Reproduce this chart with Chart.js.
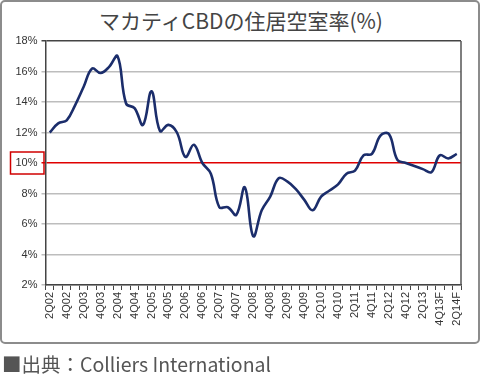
<!DOCTYPE html>
<html>
<head>
<meta charset="utf-8">
<script src="https://cdn.jsdelivr.net/npm/chart.js@4"></script>
<style>
  body { margin: 0; background: #fff; }
  #wrap { position: relative; width: 480px; height: 376px; overflow: hidden; }
  #frame { position: absolute; left: 0; top: 0; width: 476px; height: 340px;
           border: 2px solid #8c8c8c; border-radius: 5px; }
  #title { position: absolute; top: 5px; left: 0; width: 482px; text-align: center;
           font: 21px 'Noto Sans CJK JP', sans-serif; color: #444; }
  #source { position: absolute; top: 349px; left: 2px;
            font: 19.5px 'Noto Sans CJK JP', sans-serif; color: #555; }
  canvas { position: absolute; left: 0; top: 0; }
</style>
</head>
<body>
<div id="wrap">
  <div id="frame"></div>
  <div id="title">マカティCBDの住居空室率(%)</div>
  <canvas id="vacancyChart" width="480" height="376"></canvas>
  <div id="source">■出典：Colliers International</div>
</div>
<script>
// Makati CBD residential vacancy rate, quarterly
const quarters = [
    '2Q02', '3Q02', '4Q02',
    '1Q03', '2Q03', '3Q03', '4Q03',
    '1Q04', '2Q04', '3Q04', '4Q04',
    '1Q05', '2Q05', '3Q05', '4Q05',
    '1Q06', '2Q06', '3Q06', '4Q06',
    '1Q07', '2Q07', '3Q07', '4Q07',
    '1Q08', '2Q08', '3Q08', '4Q08',
    '1Q09', '2Q09', '3Q09', '4Q09',
    '1Q10', '2Q10', '3Q10', '4Q10',
    '1Q11', '2Q11', '3Q11', '4Q11',
    '1Q12', '2Q12', '3Q12', '4Q12',
    '1Q13', '2Q13', '3Q13', '4Q13F',
    '1Q14F', '2Q14F'
];
const vacancy = [
    12.0, 12.6, 12.8,
    13.8, 15.0, 16.2, 15.9,
    16.3, 17.0, 13.9, 13.6,
    12.5, 14.7, 12.1, 12.5,
    12.0, 10.4, 11.2, 10.0,
    9.3, 7.1, 7.1, 6.6,
    8.4, 5.2, 6.9, 7.8,
    9.0, 8.8, 8.3, 7.6,
    6.9, 7.8, 8.2, 8.6,
    9.3, 9.5, 10.5, 10.6,
    11.8, 11.9, 10.2, 10.0,
    9.8, 9.6, 9.4, 10.5,
    10.3, 10.6
];
const yTicks = [2, 4, 6, 8, 10, 12, 14, 16, 18];
const markLevel = 10;

// right edge of the plot + red box round the 10% label
const framePlugin = {
    id: 'framePlugin',
    afterDraw(chart) {
        const ctx = chart.ctx;
        const area = chart.chartArea;
        const y = chart.scales.y.getPixelForValue(markLevel);
        ctx.save();
        ctx.strokeStyle = '#555';
        ctx.lineWidth = 1.5;
        ctx.beginPath();
        ctx.moveTo(area.right, area.top);
        ctx.lineTo(area.right, area.bottom);
        ctx.stroke();
        ctx.strokeStyle = '#d00000';
        ctx.lineWidth = 1.5;
        ctx.strokeRect(10.5, y - 11, 33.5, 22);
        ctx.restore();
    }
};

document.addEventListener('DOMContentLoaded', function() {
    const ctx = document.getElementById('vacancyChart');
    new Chart(ctx, {
        type: 'line',
        data: {
            labels: quarters,
            datasets: [{
                data: vacancy,
                borderColor: '#1b2d6b',
                borderWidth: 2.6,
                pointRadius: 0,
                tension: 0.4,
                fill: false
            }]
        },
        options: {
            responsive: false,
            animation: false,
            layout: { padding: { top: 41, right: 19, bottom: 41, left: 0 } },
            plugins: {
                legend: { display: false },
                tooltip: { enabled: false }
            },
            scales: {
                x: {
                    offset: true,
                    grid: {
                        offset: true,
                        drawOnChartArea: false,
                        drawTicks: true,
                        tickLength: 5,
                        color: '#444',
                        lineWidth: 1
                    },
                    border: { color: '#444', width: 1.5 },
                    ticks: {
                        autoSkip: false,
                        maxRotation: 90,
                        minRotation: 90,
                        padding: 2,
                        color: '#333',
                        font: { family: 'Liberation Sans', size: 11 },
                        callback: function(v, i) { return i % 2 === 0 ? quarters[i] : ''; }
                    },
                    afterFit: function(scale) { scale.height = 50; }
                },
                y: {
                    min: yTicks[0],
                    max: yTicks[yTicks.length - 1],
                    afterBuildTicks: function(scale) {
                        scale.ticks = yTicks.map(v => ({ value: v }));
                    },
                    grid: {
                        tickLength: 4,
                        color: function(c) {
                            if (c.tick.value === markLevel) return '#e00000';
                            if (c.tick.value === 18) return '#444';
                            return '#bdbdbd';
                        },
                        lineWidth: 1.5
                    },
                    border: { color: '#444', width: 1.5 },
                    ticks: {
                        padding: 4,
                        color: '#333',
                        font: { family: 'Liberation Sans', size: 11 },
                        callback: function(v) { return v + '%'; }
                    },
                    afterFit: function(scale) { scale.width = 45.5; }
                }
            }
        },
        plugins: [framePlugin]
    });
});
</script>
</body>
</html>
